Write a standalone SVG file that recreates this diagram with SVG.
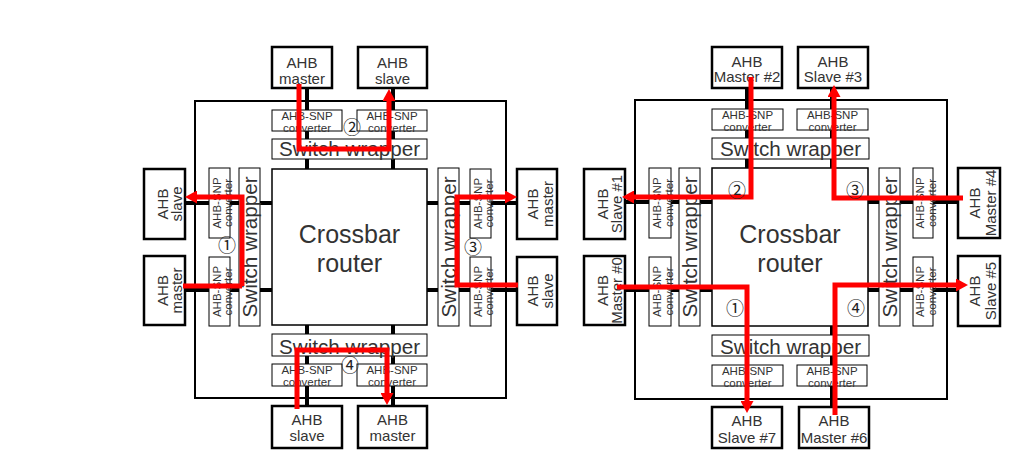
<svg xmlns="http://www.w3.org/2000/svg" width="1032" height="468" viewBox="0 0 1032 468">
<style>
.bg{fill:#fff}
.outer{fill:none;stroke:#000;stroke-width:2}
.ahb{fill:#fff;stroke:#000;stroke-width:2.5}
.thin{fill:#fff;stroke:#000;stroke-width:1}
.xbar{fill:#fff;stroke:#000;stroke-width:1.5}
.wire{stroke:#000;stroke-width:4;fill:none}
.red{stroke:#f00;stroke-width:5;fill:none;stroke-linejoin:miter}
text{font-family:"Liberation Sans",Arial,sans-serif;fill:#333;text-anchor:middle}
.l{font-size:15px}
.cv{font-size:11.5px}
.sw{font-size:20px}
.xb{font-size:25px}
.num{font-family:"Noto Sans CJK KR","DejaVu Sans",sans-serif;font-size:18px;fill:#222}
</style>
<defs>
<marker id="ah" viewBox="0 0 12 13" refX="2" refY="6.5" markerWidth="12" markerHeight="13" markerUnits="userSpaceOnUse" orient="auto">
<path d="M0,0 L12,6.5 L0,13 z" fill="#f00"/>
</marker>
</defs>
<rect class="bg" x="0" y="0" width="1032" height="468"/>

<!-- LEFT DIAGRAM -->
<rect id="L-outer" class="outer" x="195" y="101" width="311" height="297"/>
<g id="L-wires">
<path class="wire" d="M307,88 V169 M393,88 V169 M307,325 V406 M393,325 V406 M185,203 H272 M185,290 H272 M427,203 H517 M427,290 H517"/>
</g>
<g id="L-top-master"><rect class="ahb" x="272" y="47" width="60" height="41"/><text class="l" x="302" y="68">AHB</text><text class="l" x="302" y="84">master</text></g>
<g id="L-top-slave"><rect class="ahb" x="358" y="47" width="69" height="41"/><text class="l" x="392.5" y="68">AHB</text><text class="l" x="392.5" y="84">slave</text></g>
<g id="L-top-conv1"><rect class="thin" x="272" y="110" width="70" height="21"/><text class="cv" x="307" y="120">AHB-SNP</text><text class="cv" x="307" y="132">converter</text></g>
<g id="L-top-conv2"><rect class="thin" x="357" y="110" width="70" height="21"/><text class="cv" x="392" y="120">AHB-SNP</text><text class="cv" x="392" y="132">converter</text></g>
<g id="L-top-wrap"><rect class="thin" x="272" y="139" width="155" height="20"/><text class="sw" x="349.5" y="156" textLength="141" lengthAdjust="spacingAndGlyphs">Switch wrapper</text></g>
<g id="L-crossbar"><rect class="xbar" x="272" y="169" width="155" height="156"/><text class="xb" x="349.5" y="243">Crossbar</text><text class="xb" x="349.5" y="272">router</text></g>
<g id="L-bot-wrap"><rect class="thin" x="272" y="334" width="155" height="22"/><text class="sw" x="349.5" y="354" textLength="141" lengthAdjust="spacingAndGlyphs">Switch wrapper</text></g>
<g id="L-bot-conv1"><rect class="thin" x="272" y="364" width="70" height="22"/><text class="cv" x="307" y="374">AHB-SNP</text><text class="cv" x="307" y="386">converter</text></g>
<g id="L-bot-conv2"><rect class="thin" x="357" y="364" width="70" height="22"/><text class="cv" x="392" y="374">AHB-SNP</text><text class="cv" x="392" y="386">converter</text></g>
<g id="L-bot-slave"><rect class="ahb" x="272" y="406" width="70" height="42"/><text class="l" x="307" y="425">AHB</text><text class="l" x="307" y="441">slave</text></g>
<g id="L-bot-master"><rect class="ahb" x="358" y="406" width="69" height="42"/><text class="l" x="392.5" y="425">AHB</text><text class="l" x="392.5" y="441">master</text></g>
<g id="L-left-slave"><rect class="ahb" x="144" y="169" width="41" height="70"/><g transform="translate(164.5,204) rotate(-90)"><text class="l" x="0" y="3.5">AHB</text><text class="l" x="0" y="17.5">slave</text></g></g>
<g id="L-left-master"><rect class="ahb" x="144" y="256" width="41" height="69"/><g transform="translate(164.5,290.5) rotate(-90)"><text class="l" x="0" y="3.5">AHB</text><text class="l" x="0" y="17.5">master</text></g></g>
<g id="L-left-conv1"><rect class="thin" x="209" y="168" width="21" height="70"/><g transform="translate(219.5,203) rotate(-90)"><text class="cv" x="0" y="1">AHB-SNP</text><text class="cv" x="0" y="12.5">converter</text></g></g>
<g id="L-left-conv2"><rect class="thin" x="209" y="257" width="21" height="69"/><g transform="translate(219.5,291.5) rotate(-90)"><text class="cv" x="0" y="1">AHB-SNP</text><text class="cv" x="0" y="12.5">converter</text></g></g>
<g id="L-left-wrap"><rect class="thin" x="239" y="168" width="21" height="158"/><g transform="translate(249.5,247) rotate(-90)"><text class="sw" x="0" y="7.5" textLength="141" lengthAdjust="spacingAndGlyphs">Switch wrapper</text></g></g>
<g id="L-right-wrap"><rect class="thin" x="438" y="168" width="21" height="158"/><g transform="translate(448.5,247) rotate(-90)"><text class="sw" x="0" y="7.5" textLength="141" lengthAdjust="spacingAndGlyphs">Switch wrapper</text></g></g>
<g id="L-right-conv1"><rect class="thin" x="470" y="169" width="21" height="69"/><g transform="translate(480.5,203.5) rotate(-90)"><text class="cv" x="0" y="1">AHB-SNP</text><text class="cv" x="0" y="12.5">converter</text></g></g>
<g id="L-right-conv2"><rect class="thin" x="470" y="257" width="21" height="69"/><g transform="translate(480.5,291.5) rotate(-90)"><text class="cv" x="0" y="1">AHB-SNP</text><text class="cv" x="0" y="12.5">converter</text></g></g>
<g id="L-right-master"><rect class="ahb" x="517" y="169" width="40" height="70"/><g transform="translate(537,204) rotate(-90)"><text class="l" x="0" y="1">AHB</text><text class="l" x="0" y="16">master</text></g></g>
<g id="L-right-slave"><rect class="ahb" x="517" y="257" width="40" height="68"/><g transform="translate(537,291) rotate(-90)"><text class="l" x="0" y="1">AHB</text><text class="l" x="0" y="16">slave</text></g></g>

<!-- RIGHT DIAGRAM -->
<rect id="R-outer" class="outer" x="635" y="100" width="312" height="299"/>
<g id="R-wires">
<path class="wire" d="M747,88 V168 M832,88 V168 M747,326 V407 M832,326 V407 M625,202 H712 M625,290 H712 M868,202 H958 M868,290 H958"/>
</g>
<g id="R-master2"><rect class="ahb" x="712" y="47" width="70" height="41"/><text class="l" x="747" y="67">AHB</text><text class="l" x="747" y="82">Master #2</text></g>
<g id="R-slave3"><rect class="ahb" x="798" y="47" width="70" height="41"/><text class="l" x="833" y="67">AHB</text><text class="l" x="833" y="82">Slave #3</text></g>
<g id="R-top-conv1"><rect class="thin" x="712" y="109" width="71" height="21"/><text class="cv" x="747.5" y="119">AHB-SNP</text><text class="cv" x="747.5" y="131">converter</text></g>
<g id="R-top-conv2"><rect class="thin" x="797" y="109" width="71" height="21"/><text class="cv" x="832.5" y="119">AHB-SNP</text><text class="cv" x="832.5" y="131">converter</text></g>
<g id="R-top-wrap"><rect class="thin" x="712" y="138" width="157" height="21"/><text class="sw" x="790.5" y="156" textLength="141" lengthAdjust="spacingAndGlyphs">Switch wrapper</text></g>
<g id="R-crossbar"><rect class="xbar" x="712" y="168" width="156" height="158"/><text class="xb" x="790" y="243">Crossbar</text><text class="xb" x="790" y="272">router</text></g>
<g id="R-bot-wrap"><rect class="thin" x="712" y="335" width="157" height="21"/><text class="sw" x="790.5" y="354" textLength="141" lengthAdjust="spacingAndGlyphs">Switch wrapper</text></g>
<g id="R-bot-conv1"><rect class="thin" x="712" y="365" width="71" height="21"/><text class="cv" x="747.5" y="375">AHB-SNP</text><text class="cv" x="747.5" y="387">converter</text></g>
<g id="R-bot-conv2"><rect class="thin" x="797" y="365" width="70" height="21"/><text class="cv" x="832" y="375">AHB-SNP</text><text class="cv" x="832" y="387">converter</text></g>
<g id="R-slave7"><rect class="ahb" x="712" y="407" width="70" height="41"/><text class="l" x="747" y="426">AHB</text><text class="l" x="747" y="443">Slave #7</text></g>
<g id="R-master6"><rect class="ahb" x="799" y="407" width="70" height="41"/><text class="l" x="834" y="426">AHB</text><text class="l" x="834" y="443">Master #6</text></g>
<g id="R-slave1"><rect class="ahb" x="584" y="169" width="41" height="70"/><g transform="translate(604.5,204) rotate(-90)"><text class="l" x="0" y="3.5">AHB</text><text class="l" x="0" y="17.5">Slave #1</text></g></g>
<g id="R-master0"><rect class="ahb" x="584" y="256" width="41" height="69"/><g transform="translate(604.5,290.5) rotate(-90)"><text class="l" x="0" y="3.5">AHB</text><text class="l" x="0" y="17.5">Master #0</text></g></g>
<g id="R-left-conv1"><rect class="thin" x="649" y="168" width="22" height="70"/><g transform="translate(660,203) rotate(-90)"><text class="cv" x="0" y="1">AHB-SNP</text><text class="cv" x="0" y="12.5">converter</text></g></g>
<g id="R-left-conv2"><rect class="thin" x="649" y="257" width="22" height="69"/><g transform="translate(660,291.5) rotate(-90)"><text class="cv" x="0" y="1">AHB-SNP</text><text class="cv" x="0" y="12.5">converter</text></g></g>
<g id="R-left-wrap"><rect class="thin" x="679" y="168" width="21" height="158"/><g transform="translate(689.5,247) rotate(-90)"><text class="sw" x="0" y="7.5" textLength="141" lengthAdjust="spacingAndGlyphs">Switch wrapper</text></g></g>
<g id="R-right-wrap"><rect class="thin" x="879" y="168" width="21" height="158"/><g transform="translate(889.5,247) rotate(-90)"><text class="sw" x="0" y="7.5" textLength="141" lengthAdjust="spacingAndGlyphs">Switch wrapper</text></g></g>
<g id="R-right-conv1"><rect class="thin" x="913" y="168" width="20" height="70"/><g transform="translate(923,203) rotate(-90)"><text class="cv" x="0" y="1">AHB-SNP</text><text class="cv" x="0" y="12.5">converter</text></g></g>
<g id="R-right-conv2"><rect class="thin" x="913" y="257" width="20" height="69"/><g transform="translate(923,291.5) rotate(-90)"><text class="cv" x="0" y="1">AHB-SNP</text><text class="cv" x="0" y="12.5">converter</text></g></g>
<g id="R-master4"><rect class="ahb" x="958" y="168" width="42" height="70"/><g transform="translate(979,203) rotate(-90)"><text class="l" x="0" y="1">AHB</text><text class="l" x="0" y="17">Master #4</text></g></g>
<g id="R-slave5"><rect class="ahb" x="958" y="256" width="42" height="70"/><g transform="translate(979,291) rotate(-90)"><text class="l" x="0" y="1">AHB</text><text class="l" x="0" y="17">Slave #5</text></g></g>

<!-- RED PATHS -->
<g id="paths">
<path class="red" d="M242,286 H183 M242,286 V197 H195" marker-end="url(#ah)"/>
<path class="red" d="M299,84 V149 H389 V99" marker-end="url(#ah)"/>
<path class="red" d="M518,285 H457 V197 H507" marker-end="url(#ah)"/>
<path class="red" d="M297,409 V350 H387 V395" marker-end="url(#ah)"/>
<path class="red" d="M617,287 H747 V403" marker-end="url(#ah)"/>
<path class="red" d="M751,77 V197 H632" marker-end="url(#ah)"/>
<path class="red" d="M963,198 H834 V95" marker-end="url(#ah)"/>
<path class="red" d="M835,415 V285 H958" marker-end="url(#ah)"/>
</g>
<g id="labels">
<text class="num" x="227" y="252">①</text>
<text class="num" x="352" y="134">②</text>
<text class="num" x="473" y="254">③</text>
<text class="num" x="350" y="372">④</text>
<text class="num" x="735" y="315">①</text>
<text class="num" x="737" y="197">②</text>
<text class="num" x="855" y="197">③</text>
<text class="num" x="856" y="315">④</text>
</g>
</svg>
